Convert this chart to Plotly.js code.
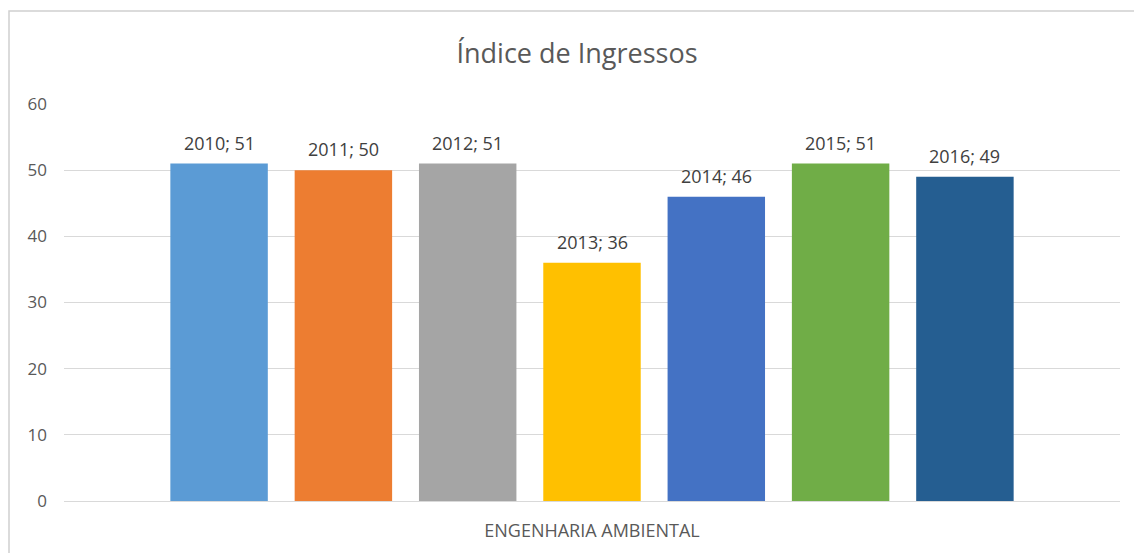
<!DOCTYPE html>
<html>
<head>
<meta charset="utf-8">
<script src="https://cdn.plot.ly/plotly-3.0.1.min.js"></script>
<style>html,body{margin:0;padding:0;background:#fff;}#chart{width:1134px;height:553px;}</style>
</head>
<body>
<div id="chart"></div>
<script>
const category = ["ENGENHARIA AMBIENTAL"];
const years = ["2010", "2011", "2012", "2013", "2014", "2015", "2016"];
const values = [51, 50, 51, 36, 46, 51, 49];
const colors = ["#5B9BD5", "#ED7D31", "#A5A5A5", "#FFC000", "#4472C4", "#70AD47", "#255E91"];
const yTicks = [0, 10, 20, 30, 40, 50, 60];

const FONT = "Open Sans, sans-serif";
const bargap = 0.176;
const bargroupgap = 0.216;

const traces = years.map((yr, i) => ({
  type: "bar",
  name: yr,
  x: category,
  y: [values[i]],
  marker: {color: colors[i]},
  hoverinfo: "name+y"
}));

const n = years.length;
const slot = (1 - bargap) / n;
const annotations = years.map((yr, i) => ({
  x: -(1 - bargap) / 2 + slot * (i + 0.5),
  y: values[i],
  xref: "x", yref: "y",
  text: yr + "; " + values[i],
  showarrow: false,
  yanchor: "bottom",
  yshift: 7,
  font: {family: FONT, size: 18, color: "#404040"}
}));

const layout = {
  width: 1134, height: 553,
  paper_bgcolor: "#ffffff", plot_bgcolor: "#ffffff",
  margin: {l: 64, r: 14, t: 104, b: 52},
  showlegend: false,
  barmode: "group",
  bargap: bargap,
  bargroupgap: bargroupgap,
  title: {
    text: "Índice de Ingressos",
    x: 577 / 1134, xanchor: "center", xref: "container",
    y: 1 - 54 / 553, yanchor: "middle", yref: "container",
    font: {family: FONT, size: 27, color: "#595959"}
  },
  xaxis: {
    type: "category",
    showgrid: false,
    showline: false,
    ticks: "",
    ticklabelstandoff: 17,
    tickfont: {family: FONT, size: 18, color: "#595959"},
    fixedrange: true
  },
  yaxis: {
    range: [0, 60],
    tickvals: yTicks,
    ticktext: yTicks.map(String),
    showgrid: true,
    gridcolor: "#d9d9d9",
    gridwidth: 1,
    zeroline: true,
    zerolinecolor: "#d9d9d9",
    zerolinewidth: 1,
    showline: false,
    ticks: "",
    ticklabelstandoff: 16,
    tickfont: {family: FONT, size: 17, color: "#595959"},
    fixedrange: true
  },
  annotations: annotations,
  shapes: [{
    type: "rect",
    xref: "paper", yref: "paper",
    x0: (9 - 64) / 1056, x1: (1150 - 64) / 1056,
    y0: -(560 - 501) / 397, y1: 1 + (104 - 11) / 397,
    line: {color: "#d0d0d0", width: 1.5},
    fillcolor: "rgba(0,0,0,0)",
    layer: "below"
  }]
};

Plotly.newPlot("chart", traces, layout, {displayModeBar: false, staticPlot: true});
</script>
</body>
</html>
